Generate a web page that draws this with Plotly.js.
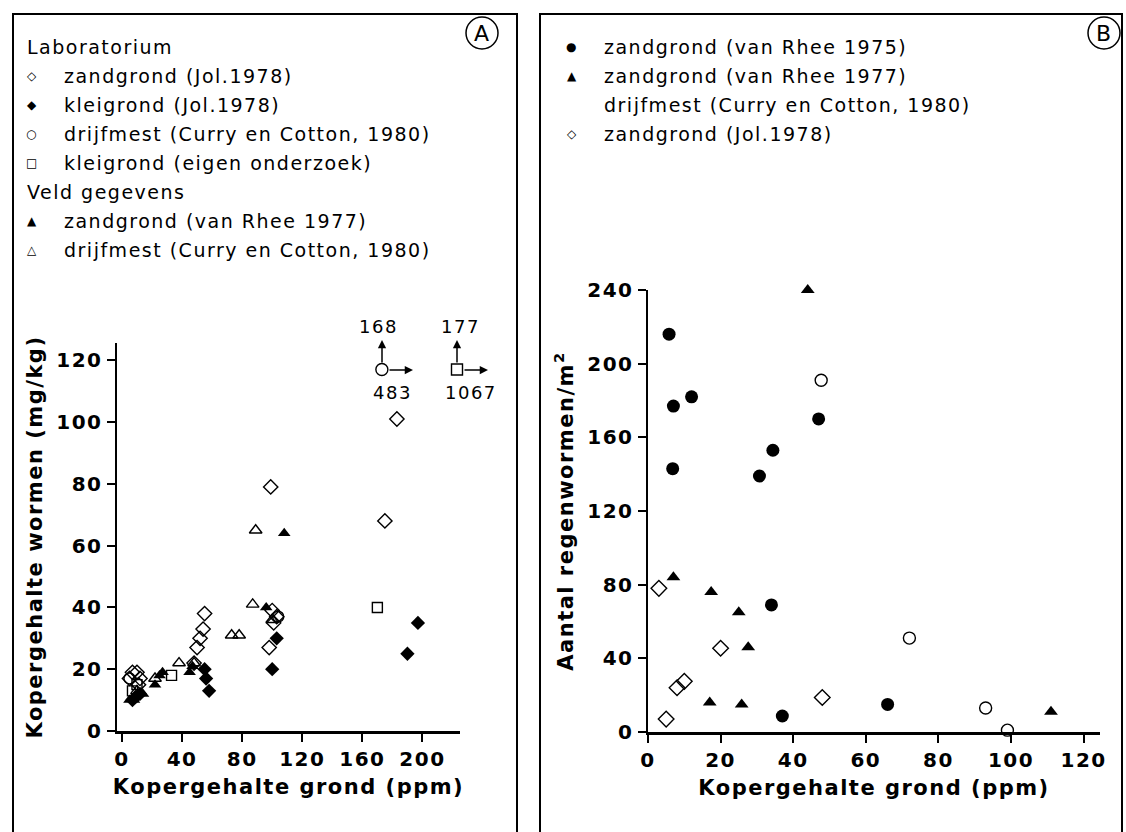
<!DOCTYPE html>
<html>
<head>
<meta charset="utf-8">
<script src="https://cdn.plot.ly/plotly-3.0.1.min.js"></script>
<style>
html,body{margin:0;padding:0;background:#fff;}
#chart{width:1126px;height:832px;}
svg text{letter-spacing:1.5px;}
</style>
</head>
<body>
<div id="chart"></div>
<script>
// ---------- Panel A data (Kopergehalte grond ppm vs Kopergehalte wormen mg/kg) ----------
const aJolZandX = [5, 7, 10, 11, 12, 48, 50, 52, 54, 55, 98, 100, 101, 103, 99, 175, 183];
const aJolZandY = [17, 19, 19, 15, 17, 22, 27, 30, 33, 38, 27, 39, 35, 37, 79, 68, 101];
const aJolKleiX = [7, 9, 12, 55, 56, 58, 100, 103, 190, 197];
const aJolKleiY = [10, 11, 12, 20, 17, 13, 20, 30, 25, 35];
const aCurryLabX = [5, 104];
const aCurryLabY = [17, 37];
const aEigenX = [7, 10, 33, 170];
const aEigenY = [13, 15, 18, 40];
const aRheeX = [5, 8, 14, 22, 25, 27, 45, 47, 96, 108];
const aRheeY = [10, 10, 12, 15, 18, 19, 19, 21, 40, 64];
const aCurryVeldX = [10, 22, 38, 48, 73, 78, 87, 89, 100];
const aCurryVeldY = [13, 17, 22, 22, 31, 31, 41, 65, 36];
// off-scale points: true values, and where they are drawn at the top edge
const offTrueX = [483, 1067];
const offTrueY = [168, 177];
const offDrawX = [173, 223];
const offDrawY = [117, 117];

// ---------- Panel B data (Kopergehalte grond ppm vs Aantal regenwormen/m2) ----------
const bRhee75X = [5.8, 7, 12, 6.8, 30.7, 34.4, 47, 34, 37, 66];
const bRhee75Y = [216, 177, 182, 143, 139, 153, 170, 69, 8.7, 15];
const bRhee77X = [44, 7, 17.4, 25, 27.6, 17, 25.8, 111];
const bRhee77Y = [240, 84, 76, 65, 46, 16, 15, 11];
const bCurryX = [47.7, 72, 93, 99];
const bCurryY = [191, 51, 13, 1];
const bJolX = [3, 20, 8, 10, 48, 5];
const bJolY = [78, 45.5, 24, 27.5, 18.7, 7];

const xTicksA = [0, 40, 80, 120, 160, 200];
const yTicksA = [0, 20, 40, 60, 80, 100, 120];
const xTicksB = [0, 20, 40, 60, 80, 100, 120];
const yTicksB = [0, 40, 80, 120, 160, 200, 240];

const legendA = [
  {sym: "", text: "Laboratorium"},
  {sym: "◇", text: "zandgrond (Jol.1978)"},
  {sym: "◆", text: "kleigrond (Jol.1978)"},
  {sym: "○", text: "drijfmest (Curry en Cotton, 1980)"},
  {sym: "□", text: "kleigrond (eigen onderzoek)"},
  {sym: "", text: "Veld gegevens"},
  {sym: "▲", text: "zandgrond (van Rhee 1977)"},
  {sym: "△", text: "drijfmest (Curry en Cotton, 1980)"}
];
const legendB = [
  {sym: "●", text: "zandgrond (van Rhee 1975)"},
  {sym: "▲", text: "zandgrond (van Rhee 1977)"},
  {sym: "", text: "drijfmest (Curry en Cotton, 1980)"},
  {sym: "◇", text: "zandgrond (Jol.1978)"}
];

const FONT = "DejaVu Sans, Arial, sans-serif";
const W = 1126, H = 832;
const px = v => v / W;
const py = v => 1 - v / H;

function sc(x, y, sym, size, xa, ya, filled) {
  return {
    x: x, y: y, xaxis: xa, yaxis: ya, type: "scatter", mode: "markers",
    showlegend: false, hoverinfo: "x+y", cliponaxis: false,
    marker: {symbol: sym, size: size, color: "#000",
      line: {color: "#000", width: filled ? 0 : 1.4}}
  };
}

const traces = [
  sc(aJolZandX, aJolZandY, "diamond-open", 11, "x", "y"),
  sc(aJolKleiX, aJolKleiY, "diamond", 11, "x", "y", true),
  sc(aCurryLabX, aCurryLabY, "circle-open", 11, "x", "y"),
  sc(aEigenX, aEigenY, "square-open", 10, "x", "y"),
  sc(aRheeX, aRheeY, "triangle-up", 11, "x", "y", true),
  sc(aCurryVeldX, aCurryVeldY, "triangle-up-open", 11, "x", "y"),
  sc([offDrawX[0]], [offDrawY[0]], "circle-open", 12, "x", "y"),
  sc([offDrawX[1]], [offDrawY[1]], "square-open", 11, "x", "y"),
  sc(bRhee75X, bRhee75Y, "circle", 13, "x2", "y2", true),
  sc(bRhee77X, bRhee77Y, "triangle-up", 12, "x2", "y2", true),
  sc(bCurryX, bCurryY, "circle-open", 12, "x2", "y2"),
  sc(bJolX, bJolY, "diamond-open", 12, "x2", "y2")
];

const axisCommon = {
  showgrid: false, zeroline: false, showline: true, linecolor: "#000", linewidth: 2.5,
  ticks: "outside", ticklen: 8, tickwidth: 2, tickcolor: "#000",
  tickfont: {family: FONT, size: 20, color: "#000", weight: "bold"}, fixedrange: true
};
const titleFont = {family: FONT, size: 21, color: "#000", weight: "bold"};

const annotations = [];
function note(x, y, text, size, anchor) {
  annotations.push({xref: "paper", yref: "paper", x: px(x), y: py(y), text: text, showarrow: false,
    xanchor: anchor || "left", yanchor: "middle", font: {family: FONT, size: size, color: "#000"}});
}
function arrow(hx, hy, dx, dy) {
  annotations.push({xref: "paper", yref: "paper", x: px(hx), y: py(hy), ax: dx, ay: dy, axref: "pixel", ayref: "pixel",
    text: "", showarrow: true, arrowhead: 2, arrowsize: 1.1, arrowwidth: 1.5, arrowcolor: "#000", standoff: 0});
}
// legend A
legendA.forEach((it, i) => {
  const y = 47 + i * 29;
  if (it.sym) note(32, y, it.sym, 12, "center");
  note(it.sym ? 62 : 25, y, it.text, 19);
});
// legend B
legendB.forEach((it, i) => {
  const y = 47 + i * 29;
  if (it.sym) note(572, y, it.sym, 12, "center");
  note(602, y, it.text, 19);
});
// circled letters
note(482, 33, "A", 22, "center");
note(1104, 33, "B", 22, "center");
// off-scale arrows and labels (pixel layout of the markers at 382 / 457, 370)
[[382, 378, 392], [457, 460, 471]].forEach(([mx, tx1, tx2], i) => {
  arrow(mx, 340, 0, 24);
  arrow(mx + 31, 370, -25, 0);
  note(tx1, 326, String(offTrueY[i]), 18, "center");
  note(tx2, 393, String(offTrueX[i]), 18, "center");
});

const shapes = [
  {type: "rect", xref: "paper", yref: "paper", x0: px(13), x1: px(517), y0: py(845), y1: py(14),
    line: {color: "#000", width: 2}},
  {type: "rect", xref: "paper", yref: "paper", x0: px(540), x1: px(1122), y0: py(845), y1: py(14),
    line: {color: "#000", width: 2}},
  {type: "circle", xref: "paper", yref: "paper", x0: px(466), x1: px(498), y0: py(49), y1: py(17),
    line: {color: "#000", width: 1.5}},
  {type: "circle", xref: "paper", yref: "paper", x0: px(1088), x1: px(1120), y0: py(49), y1: py(17),
    line: {color: "#000", width: 1.5}}
];

const layout = {
  width: W, height: H, margin: {l: 0, r: 0, t: 0, b: 0},
  paper_bgcolor: "#fff", plot_bgcolor: "rgba(0,0,0,0)", showlegend: false,
  font: {family: FONT, color: "#000"},
  xaxis: Object.assign({}, axisCommon, {domain: [px(117), px(460)], range: [-3.3, 225], anchor: "y",
    tickvals: xTicksA, title: {text: "Kopergehalte grond (ppm)", font: titleFont, standoff: 10}}),
  yaxis: Object.assign({}, axisCommon, {domain: [py(731), py(343)], range: [0, 125.6], anchor: "x",
    tickvals: yTicksA, title: {text: "Kopergehalte wormen (mg/kg)", font: titleFont, standoff: 8}}),
  xaxis2: Object.assign({}, axisCommon, {domain: [px(648), px(1100)], range: [0, 124.5], anchor: "y2",
    tickvals: xTicksB, title: {text: "Kopergehalte grond (ppm)", font: titleFont, standoff: 10}}),
  yaxis2: Object.assign({}, axisCommon, {domain: [py(732), py(290)], range: [0, 240], anchor: "x2",
    tickvals: yTicksB, title: {text: "Aantal regenwormen/m<sup>2</sup>", font: titleFont, standoff: 8}}),
  annotations: annotations,
  shapes: shapes
};

Plotly.newPlot("chart", traces, layout, {displayModeBar: false, staticPlot: true});
</script>
</body>
</html>
